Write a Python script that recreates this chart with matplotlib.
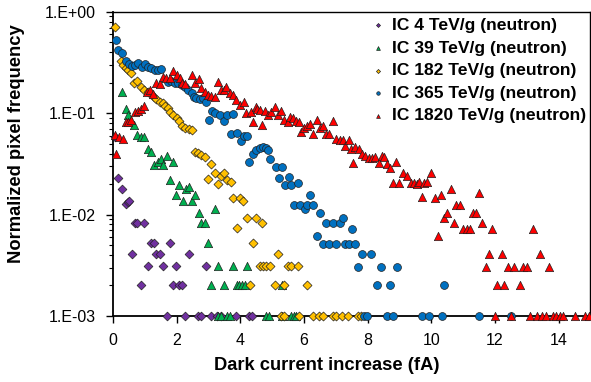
import matplotlib
matplotlib.use("Agg")
import matplotlib.pyplot as plt
from matplotlib.ticker import LogLocator, NullFormatter, FixedLocator, FixedFormatter

plt.rcParams['font.family'] = ['Liberation Sans', 'DejaVu Sans']

# ---------------- data ----------------
labels = ["IC 4 TeV/g (neutron)", "IC 39 TeV/g (neutron)", "IC 182 TeV/g (neutron)",
          "IC 365 TeV/g (neutron)", "IC 1820 TeV/g (neutron)"]

ic4_x = [0.06, 0.17, 0.29, 0.40, 0.46, 0.50, 0.59, 0.69, 0.77, 0.88, 0.98, 1.09, 1.19, 1.29,
         1.37, 1.47, 1.59, 1.80, 1.88, 1.99, 2.07, 2.17, 2.40, 2.91,
         1.69, 2.28, 2.67, 2.78, 3.07, 3.28, 3.40, 3.88, 4.27, 4.38]
ic4_y = [0.058, 0.0228, 0.0178, 0.0127, 0.0133, 0.0137, 0.0041, 0.0083, 0.0083, 0.0020, 0.0083,
         0.0031, 0.0052, 0.0052, 0.0041, 0.0041, 0.0031, 0.0052, 0.0020, 0.0031, 0.0020, 0.0020,
         0.0041, 0.0031,
         0.001, 0.001, 0.001, 0.001, 0.001, 0.001, 0.001, 0.001, 0.001, 0.001]

ic39_x = [0.29, 0.40, 0.48, 0.67, 0.77, 0.88, 0.98, 1.09, 1.19, 1.29, 1.42, 1.50, 1.59, 1.69,
          1.88, 1.80, 1.97, 2.09, 2.19, 2.30, 2.40, 2.49, 2.59, 2.70, 2.78, 2.88, 2.99, 3.20,
          3.30, 3.78, 4.20, 3.09, 3.49, 3.89, 3.97, 4.05, 4.14, 5.30,
          3.30, 3.40, 3.59, 3.68, 4.80, 4.90, 5.32, 5.60, 5.68, 5.76]
ic39_y = [0.161, 0.109, 0.095, 0.076, 0.061, 0.058, 0.058, 0.044, 0.041, 0.031, 0.033, 0.035,
          0.0307, 0.038, 0.033, 0.022, 0.0157, 0.0197, 0.0135, 0.0178, 0.0188, 0.0135, 0.0157,
          0.0103, 0.0083, 0.0083, 0.0052, 0.01145, 0.0031, 0.0031, 0.0031, 0.0020, 0.0020,
          0.0020, 0.0020, 0.0020, 0.0020, 0.0020,
          0.001, 0.001, 0.001, 0.001, 0.001, 0.001, 0.001, 0.001, 0.001, 0.001]

ic182_x = [0.08, 0.25, 0.32, 0.40, 0.48, 0.56, 0.67, 0.77, 0.88, 0.98, 1.09, 1.19, 1.29, 1.37,
           1.47, 1.58, 1.65, 1.72, 1.79, 1.90, 2.00, 2.07, 2.18, 2.28, 2.38, 2.49, 2.57, 2.67,
           2.78, 2.88, 3.09, 2.99, 3.20, 3.30, 3.39, 3.49, 3.60, 3.70, 3.78, 3.99, 4.10, 4.20,
           4.49, 4.68, 3.89, 4.39, 5.18, 4.61, 4.71, 4.82, 4.94, 5.50, 5.60, 5.81, 4.30, 5.10,
           5.39, 6.09,
           5.29, 5.39, 5.86, 6.28, 6.49, 6.59, 6.91, 7.01, 7.20, 7.38, 7.70, 7.78]
ic182_y = [0.716, 0.324, 0.300, 0.282, 0.267, 0.248, 0.198, 0.208, 0.183, 0.170, 0.161, 0.154,
           0.146, 0.138, 0.130, 0.126, 0.119, 0.112, 0.102, 0.096, 0.089, 0.083, 0.0755, 0.0711,
           0.0695, 0.0684, 0.0418, 0.0403, 0.0388, 0.0373, 0.0314, 0.0223, 0.0255, 0.020, 0.024,
           0.0255, 0.022, 0.021, 0.0146, 0.0146, 0.0137, 0.0093, 0.0093, 0.0083, 0.0073, 0.0052,
           0.0041, 0.0031, 0.0031, 0.0031, 0.0031, 0.0031, 0.0031, 0.0031, 0.0020, 0.0020,
           0.0020, 0.0020,
           0.001, 0.001, 0.001, 0.001, 0.001, 0.001, 0.001, 0.001, 0.001, 0.001, 0.001, 0.001]

ic365_x = [0.09, 0.17, 0.29, 0.40, 0.50, 0.60, 0.69, 0.79, 0.90, 1.00, 1.09, 1.21, 1.32, 1.42,
           1.50, 1.73, 1.84, 1.94, 2.05, 2.17, 2.28, 2.36, 2.47, 2.55, 2.62, 2.73, 2.83, 2.94,
           3.01, 3.12, 3.22, 3.36, 3.49, 3.60, 3.77, 3.70, 3.91, 4.02, 4.12, 4.22, 4.29, 4.40,
           4.50, 4.61, 4.71, 4.82, 4.87, 4.95, 5.11, 5.30, 5.21, 5.40, 5.53, 5.61, 5.80, 5.70,
           5.89, 6.03, 6.11, 6.20, 6.30, 6.40, 6.51, 6.59, 6.70, 6.80, 6.91, 7.01, 7.12, 7.22,
           7.30, 7.41, 7.51, 7.61, 7.70, 7.82, 8.12, 8.31, 8.41, 8.71, 8.91, 10.41,
           7.90, 7.97, 8.60, 8.79, 9.71, 9.92, 10.33, 11.50, 12.50]
ic365_y = [0.529, 0.421, 0.391, 0.328, 0.305, 0.295, 0.300, 0.312, 0.288, 0.305, 0.288, 0.278,
           0.268, 0.268, 0.274, 0.205, 0.208, 0.200, 0.198, 0.190, 0.183, 0.170, 0.157, 0.146,
           0.141, 0.138, 0.141, 0.130, 0.086, 0.105, 0.100, 0.096, 0.084, 0.096, 0.098, 0.062,
           0.064, 0.053, 0.060, 0.060, 0.033, 0.040, 0.0434, 0.0457, 0.0468, 0.045, 0.0434,
           0.035, 0.0297, 0.0297, 0.0228, 0.0196, 0.0233, 0.0196, 0.0207, 0.01245, 0.01245,
           0.0113, 0.01245, 0.0156, 0.01245, 0.00615, 0.01045, 0.00513, 0.0083, 0.00513, 0.0083,
           0.00513, 0.0083, 0.0092, 0.00513, 0.00513, 0.00726, 0.00513, 0.00306, 0.00406,
           0.00406, 0.00202, 0.00306, 0.00202, 0.00306, 0.00202,
           0.001, 0.001, 0.001, 0.001, 0.001, 0.001, 0.001, 0.001, 0.001]

ic1820_x = [0.06, 0.09, 0.19, 0.32, 0.40, 0.48, 0.56, 0.69, 0.79, 0.88, 0.98, 1.06, 1.16, 1.26,
            1.37, 1.47, 1.58, 1.68, 1.79, 1.89, 2.00, 2.10, 2.17, 2.28, 2.49, 2.57, 2.70, 2.78,
            2.88, 2.99, 3.09, 3.20, 3.30, 3.39, 3.49, 3.56, 3.67, 3.77, 3.88, 3.98, 4.12, 4.19,
            4.33, 4.40, 4.48, 4.54, 4.61, 4.69, 4.78, 4.88, 4.98, 5.08, 5.18, 5.29, 5.39, 5.49,
            5.57, 5.67, 5.76, 5.84, 5.91, 6.01, 6.10, 6.20, 6.30, 6.40, 6.50, 6.59, 6.70, 6.79,
            6.90, 7.01, 7.12, 7.22, 7.30, 7.41, 7.47, 7.53, 7.62, 7.72, 7.83, 7.93, 8.03, 8.14,
            8.24, 8.35, 8.45, 8.53, 8.60, 8.71, 8.79, 8.89, 9.00, 9.12, 9.23, 9.36, 9.47, 9.54,
            9.62, 9.71, 9.78, 9.88, 9.99, 10.12, 10.20, 10.30, 10.41, 10.51, 10.62, 10.70, 10.79,
            10.90, 11.01, 11.11, 11.21, 11.30, 11.40, 11.50, 11.61, 11.71, 11.82, 11.92, 12.08,
            12.21, 12.30, 12.40, 12.60, 12.79, 12.89, 13.02, 13.21, 13.42, 13.70,
            12.00, 12.51, 13.11, 13.31, 13.49, 13.60, 13.83, 13.93, 14.03, 14.13, 14.51, 14.83,
            14.95]
ic1820_y = [0.0605, 0.040, 0.0585, 0.0553, 0.081, 0.0826, 0.086, 0.102, 0.105, 0.110, 0.119,
            0.163, 0.170, 0.154, 0.198, 0.193, 0.230, 0.225, 0.221, 0.258, 0.239, 0.221, 0.198,
            0.193, 0.239, 0.198, 0.218, 0.179, 0.161, 0.152, 0.149, 0.146, 0.202, 0.170, 0.170,
            0.183, 0.157, 0.152, 0.135, 0.121, 0.128, 0.100, 0.102, 0.0826, 0.116, 0.110, 0.108,
            0.077, 0.105, 0.096, 0.102, 0.116, 0.096, 0.104, 0.086, 0.0826, 0.091, 0.089, 0.084,
            0.0826, 0.0659, 0.071, 0.075, 0.079, 0.0625, 0.086, 0.0715, 0.075, 0.0625, 0.063,
            0.0845, 0.0555, 0.054, 0.054, 0.047, 0.054, 0.0444, 0.0326, 0.0468, 0.0441, 0.0397,
            0.0379, 0.036, 0.036, 0.0373, 0.0326, 0.0379, 0.0373, 0.0316, 0.0286, 0.0207, 0.0332,
            0.0207, 0.0255, 0.024, 0.0207, 0.0207, 0.020, 0.0211, 0.0148, 0.0207, 0.0211, 0.0259,
            0.0146, 0.00615, 0.0156, 0.0092, 0.0103, 0.0178, 0.0083, 0.01245, 0.01245, 0.0072,
            0.0072, 0.0072, 0.0103, 0.0103, 0.0164, 0.0083, 0.00306, 0.00406, 0.0072, 0.00202,
            0.00406, 0.00202, 0.00306, 0.00306, 0.00202, 0.00306, 0.00306, 0.0072, 0.00406,
            0.00306,
            0.001, 0.001, 0.001, 0.001, 0.001, 0.001, 0.001, 0.001, 0.001, 0.001, 0.001, 0.001,
            0.001]

ytick_vals = [1e-3, 1e-2, 1e-1, 1e0]
ytick_labels = ["1.E-03", "1.E-02", "1.E-01", "1.E+00"]
xtick_vals = [0, 2, 4, 6, 8, 10, 12, 14]

# ---------------- plot ----------------
fig = plt.figure(figsize=(5.91, 3.82), dpi=100)
ax = fig.add_axes([0.191, 0.173, 0.808, 0.796])

series = [
    (ic4_x, ic4_y, 'D', '#7030A0', 20),
    (ic39_x, ic39_y, '^', '#00B050', 36),
    (ic182_x, ic182_y, 'D', '#FFC000', 21),
    (ic365_x, ic365_y, 'o', '#0070C0', 32),
    (ic1820_x, ic1820_y, '^', '#FF0000', 36),
]
for (xs, ys, mk, col, sz), lab in zip(series, labels):
    ax.scatter(xs, ys, marker=mk, s=sz, c=col, edgecolors='#202020', linewidths=0.5,
               label=lab, clip_on=False, zorder=3)

ax.set_yscale('log')
ax.set_xlim(0, 15)
ax.set_ylim(1e-3, 1)
ax.yaxis.set_major_locator(FixedLocator(ytick_vals))
ax.yaxis.set_major_formatter(FixedFormatter(ytick_labels))
ax.yaxis.set_minor_locator(LogLocator(base=10, subs=range(2, 10)))
ax.yaxis.set_minor_formatter(NullFormatter())
ax.set_xticks(xtick_vals)
ax.tick_params(axis='both', which='major', labelsize=11.5, direction='out', length=5, width=1)
ax.tick_params(axis='y', which='minor', direction='out', length=3, width=0.8)
ax.tick_params(axis='x', pad=7)
ax.tick_params(axis='y', pad=7)
for sp in ax.spines.values():
    sp.set_linewidth(1.0)
ax.spines['left'].set_linewidth(1.3)
ax.spines['bottom'].set_linewidth(1.3)

ax.set_xlabel("Dark current increase (fA)", fontsize=13.2, fontweight='bold')
ax.xaxis.set_label_coords(0.448, -0.135)
ax.set_ylabel("Normalized pixel frequency", fontsize=13.2, fontweight='bold')
ax.yaxis.set_label_coords(-0.185, 0.565)

leg = ax.legend(loc='upper right', bbox_to_anchor=(1.012, 1.015), frameon=False,
                prop={'weight': 'bold', 'size': 12.6}, markerscale=0.45,
                handletextpad=0.35, labelspacing=0.42, borderaxespad=0.2, handlelength=0.8)

fig.savefig("out.png", dpi=100)
